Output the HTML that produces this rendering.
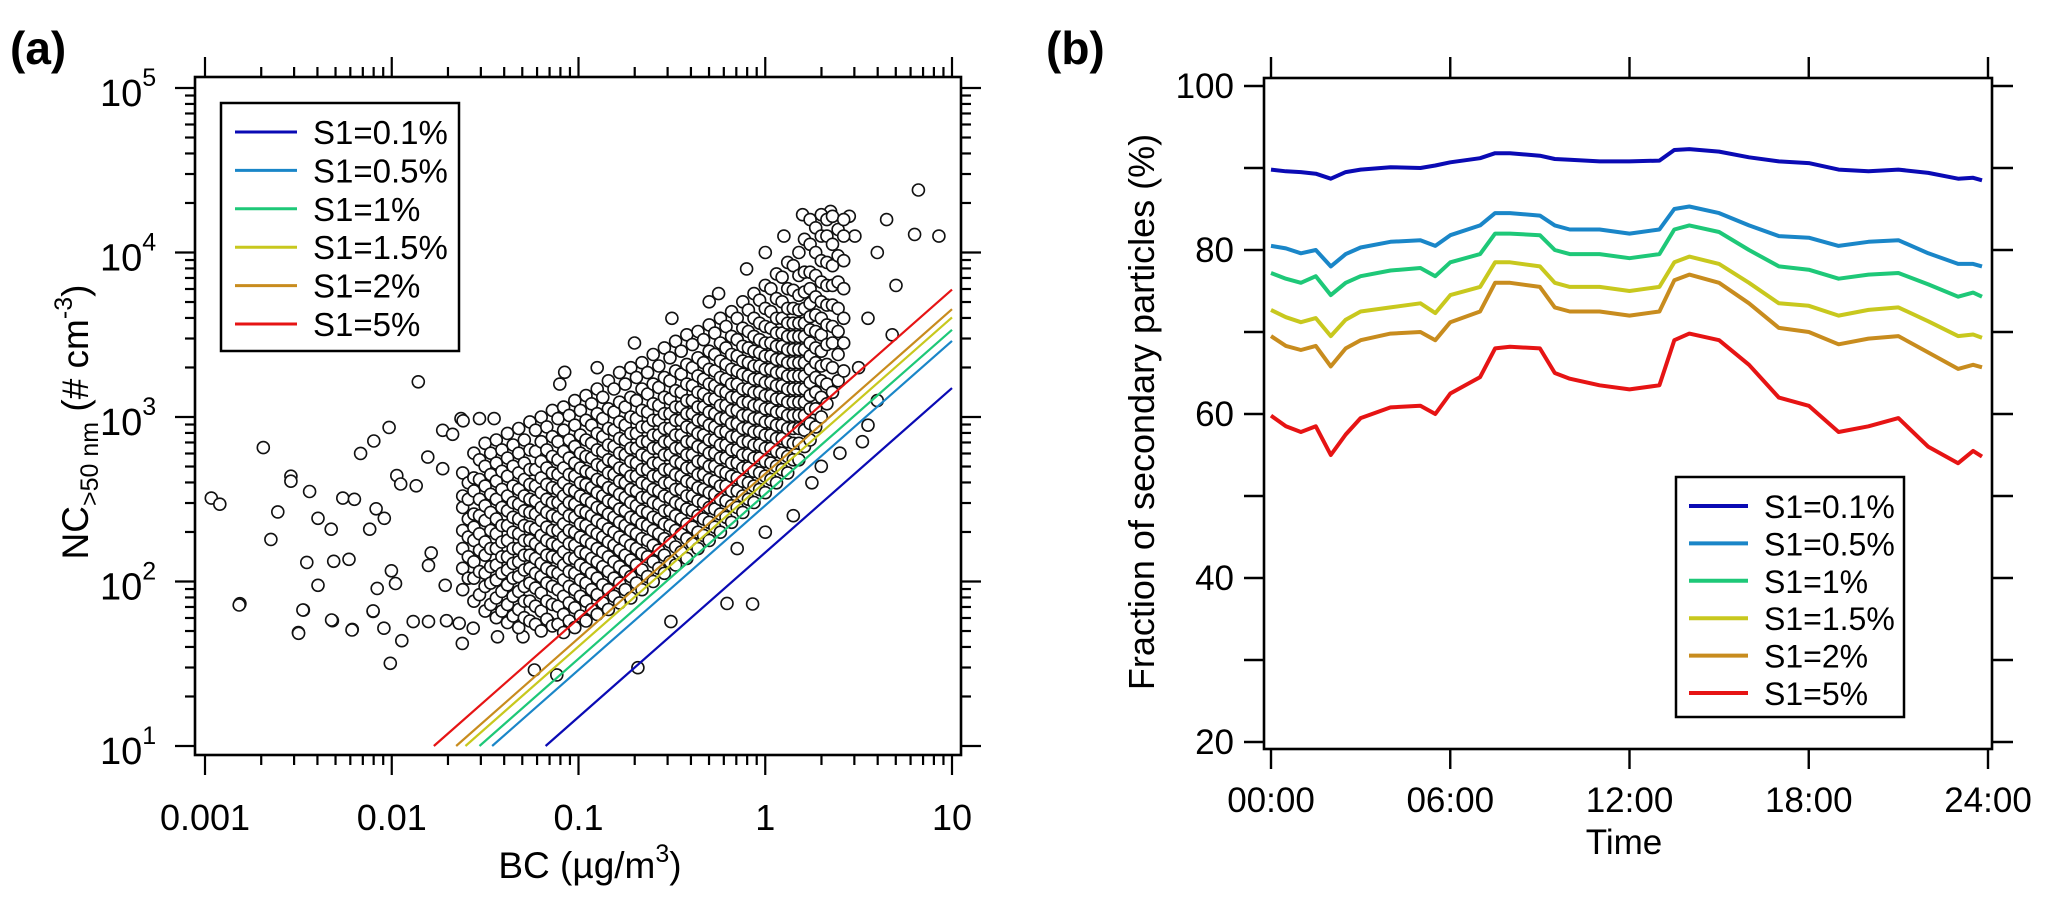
<!DOCTYPE html>
<html><head><meta charset="utf-8"><style>
html,body{margin:0;padding:0;background:#fff;}
svg{display:block;font-family:"Liberation Sans",Arial,sans-serif;}
</style></head><body>
<svg id="fig" width="2067" height="906" viewBox="0 0 2067 906" xmlns="http://www.w3.org/2000/svg">
<rect width="2067" height="906" fill="#fff"/>
<text x="10" y="64" font-size="46" font-weight="bold">(a)</text>
<text x="1046" y="64" font-size="46" font-weight="bold">(b)</text>
<g id="pa"></g>
<g id="pb"></g>
</svg>
<script>
// ---------- Panel (a) data ----------
const seriesNames = ["S1=0.1%","S1=0.5%","S1=1%","S1=1.5%","S1=2%","S1=5%"];
const seriesColors = ["#0a0ab4","#1a86c8","#1ec878","#c8c81e","#c88c1e","#e61414"];
const fitK = [150, 290, 339, 403, 452, 595];
const xTicksA = [0.001, 0.01, 0.1, 1, 10];
const xTickLabelsA = ["0.001","0.01","0.1","1","10"];
const yExpA = [1,2,3,4,5];
const outLogBC = [-2.966,-2.921,-2.688,-2.54,-2.54,-2.44,-2.61,-2.647,-2.395,-2.324,-2.262,-2.2,-2.455,-2.311,-2.229,-2.395,-2.813,-2.473,-2.318,-2.211,-2.5,-2.1,-2.078,-2.002,-1.98,-2.167,-2.096,-2.014,-1.858,-2.118,-2.084,-2.04,-1.973,-1.952,-1.869,-1.803,-1.789,-1.714,-1.727,-1.674,-1.629,-1.618,-1.53,-1.452,-1.727,-1.807,-1.074,
-2.817,-2.476,-2.499,-2.322,-2.213,-2.1,-2.042,-2.008,-1.946,-1.885,-1.803,-1.707,-1.639,-1.622,-1.564,-1.441,-1.434,-1.236,-1.116,-0.682,-0.505,-0.205,-0.068,-1.297,-1.161,
0.5,0.55,0.6,0.68,0.7,0.82,0.8,0.93,0.6,0.52,0.4,0.3,0.25,0.15,0.0,-0.15,0.55,-0.5,-0.7,-0.3,-0.1,0.1,-0.9,-1.1,0.2,0.35,0.45,0.48,0.65,-0.25,0.0];
const outLogNC = [2.507,2.47,2.814,2.64,2.61,2.547,2.423,2.256,2.384,2.318,2.507,2.5,2.116,2.123,2.135,1.977,1.865,1.826,1.762,1.709,1.69,1.818,1.958,2.065,1.988,2.779,2.854,2.937,3.214,2.318,2.442,2.384,2.644,2.593,2.582,2.098,2.174,1.977,2.919,2.895,2.99,2.977,2.99,2.99,2.686,2.756,3.272,
1.857,1.827,1.685,1.766,1.705,1.821,1.716,1.503,1.64,1.756,1.756,1.762,1.746,1.624,1.716,1.796,1.664,1.462,1.432,1.476,1.756,1.867,1.863,1.664,1.756,
3.3,3.6,4.0,3.5,3.8,4.38,4.11,4.1,3.1,2.85,2.78,2.7,2.6,2.4,2.3,2.2,2.95,3.6,3.45,3.7,3.9,4.1,3.3,3.2,4.23,4.25,4.22,4.1,4.2,3.75,4.0];
const coreLogBC = [-1.62,-1.56,-1.50,-1.44,-1.38,-1.32,-1.26,-1.20,-1.14,-1.08,-1.02,-0.96,-0.90,-0.84,-0.78,-0.72,-0.66,-0.60,-0.54,-0.48,-0.42,-0.36,-0.30,-0.24,-0.18,-0.12,-0.06,0.00,0.06,0.12,0.18,0.24,0.30,0.36,0.42];
const coreLogNC = [
[1.95,2.08,2.2,2.31,2.45,2.52,2.66],
[1.88,2.02,2.12,2.25,2.33,2.41,2.55,2.63,2.78],
[1.82,1.97,2.05,2.16,2.24,2.37,2.46,2.58,2.7,2.84],
[1.78,1.9,2.01,2.1,2.2,2.29,2.38,2.5,2.61,2.72,2.86],
[1.75,1.86,1.98,2.07,2.15,2.25,2.34,2.43,2.52,2.64,2.75,2.9],
[1.72,1.83,1.94,2.03,2.12,2.2,2.29,2.38,2.47,2.56,2.66,2.78,2.93],
[1.76,1.88,1.99,2.08,2.16,2.25,2.33,2.42,2.5,2.59,2.68,2.8,2.97],
[1.7,1.82,1.93,2.03,2.11,2.2,2.28,2.37,2.45,2.54,2.63,2.73,2.85,3.0],
[1.73,1.86,1.97,2.06,2.15,2.23,2.31,2.4,2.48,2.57,2.66,2.76,2.88,3.04],
[1.69,1.8,1.91,2.01,2.1,2.18,2.27,2.35,2.44,2.52,2.6,2.69,2.79,2.92,3.06],
[1.72,1.84,1.95,2.05,2.14,2.22,2.3,2.39,2.47,2.55,2.64,2.72,2.82,2.95,3.1],
[1.76,1.88,1.99,2.08,2.17,2.25,2.34,2.42,2.5,2.59,2.67,2.76,2.86,2.98,3.13],
[1.8,1.92,2.02,2.12,2.2,2.29,2.37,2.45,2.54,2.62,2.71,2.8,2.9,3.02,3.17],
[1.83,1.95,2.06,2.15,2.24,2.32,2.41,2.49,2.57,2.66,2.74,2.83,2.93,3.05,3.22],
[1.87,1.99,2.09,2.19,2.27,2.36,2.44,2.53,2.61,2.69,2.78,2.87,2.97,3.09,3.27],
[1.9,2.03,2.13,2.22,2.31,2.39,2.48,2.56,2.64,2.73,2.81,2.9,3.0,3.12,3.3],
[1.95,2.07,2.17,2.26,2.35,2.43,2.51,2.6,2.68,2.77,2.85,2.94,3.04,3.17,3.33],
[2.0,2.12,2.22,2.31,2.39,2.48,2.56,2.64,2.72,2.81,2.89,2.98,3.08,3.2,3.38],
[2.05,2.16,2.26,2.35,2.43,2.52,2.6,2.68,2.77,2.85,2.93,3.02,3.12,3.24,3.42],
[2.1,2.21,2.31,2.4,2.48,2.56,2.65,2.73,2.81,2.89,2.98,3.06,3.16,3.28,3.46],
[2.14,2.26,2.35,2.44,2.52,2.61,2.69,2.77,2.85,2.94,3.02,3.1,3.2,3.32,3.5],
[2.2,2.3,2.4,2.49,2.57,2.65,2.73,2.82,2.9,2.98,3.06,3.15,3.25,3.36,3.52],
[2.25,2.36,2.45,2.54,2.62,2.7,2.78,2.86,2.95,3.03,3.11,3.2,3.29,3.4,3.56],
[2.3,2.41,2.5,2.58,2.67,2.75,2.83,2.91,2.99,3.07,3.16,3.24,3.34,3.45,3.6],
[2.36,2.46,2.55,2.64,2.72,2.8,2.88,2.96,3.04,3.12,3.2,3.29,3.38,3.49,3.64],
[2.42,2.52,2.61,2.69,2.77,2.85,2.93,3.01,3.09,3.17,3.26,3.34,3.43,3.54,3.7],
[2.48,2.58,2.67,2.75,2.83,2.91,2.99,3.07,3.15,3.23,3.31,3.4,3.49,3.6,3.75],
[2.54,2.64,2.73,2.81,2.89,2.97,3.05,3.13,3.21,3.29,3.37,3.45,3.55,3.66,3.8],
[2.6,2.7,2.79,2.87,2.95,3.03,3.11,3.19,3.27,3.35,3.43,3.51,3.6,3.72,3.87],
[2.66,2.76,2.85,2.93,3.01,3.09,3.17,3.25,3.33,3.41,3.49,3.57,3.66,3.78,3.94],
[2.74,2.84,2.93,3.01,3.09,3.17,3.25,3.33,3.41,3.49,3.57,3.65,3.74,3.86,4.0],
[2.86,2.96,3.05,3.13,3.21,3.29,3.37,3.45,3.53,3.61,3.69,3.78,3.88,4.05,4.2],
[3.0,3.12,3.22,3.31,3.4,3.5,3.6,3.7,3.82,3.95,4.1,4.23],
[3.15,3.3,3.45,3.55,3.68,3.8,3.92,4.05,4.22],
[3.28,3.45,3.6,3.78,3.95,4.1,4.2]];
// second interleaved set of dense-core columns
const core2LogBC = [-1.59,-1.53,-1.47,-1.41,-1.35,-1.29,-1.23,-1.17,-1.11,-1.05,-0.99,-0.93,-0.87,-0.81,-0.75,-0.69,-0.63,-0.57,-0.51,-0.45,-0.39,-0.33,-0.27,-0.21,-0.15,-0.09,-0.03,0.03,0.09,0.15,0.21,0.27,0.33,0.39];
const core2LogNC = [
[2.02,2.15,2.27,2.38,2.5,2.6],
[1.92,2.06,2.19,2.29,2.4,2.5,2.62,2.74],
[1.86,1.99,2.09,2.2,2.31,2.42,2.53,2.65,2.78],
[1.82,1.94,2.05,2.15,2.24,2.34,2.45,2.56,2.67,2.8],
[1.79,1.91,2.02,2.11,2.2,2.3,2.39,2.48,2.58,2.7,2.83],
[1.78,1.88,1.97,2.07,2.16,2.25,2.34,2.43,2.52,2.62,2.72,2.86],
[1.74,1.85,1.96,2.05,2.14,2.23,2.32,2.41,2.49,2.58,2.68,2.79,2.92],
[1.77,1.88,1.99,2.08,2.16,2.25,2.33,2.42,2.5,2.59,2.69,2.8,2.94],
[1.74,1.85,1.95,2.05,2.14,2.22,2.31,2.39,2.48,2.56,2.65,2.74,2.85,2.99],
[1.76,1.87,1.97,2.06,2.14,2.23,2.31,2.4,2.48,2.56,2.65,2.75,2.86,3.01],
[1.79,1.91,2.01,2.1,2.18,2.27,2.35,2.43,2.52,2.6,2.69,2.78,2.89,3.04],
[1.83,1.95,2.05,2.14,2.23,2.31,2.4,2.48,2.57,2.66,2.75,2.84,2.95,3.08],
[1.87,1.98,2.09,2.18,2.27,2.35,2.44,2.52,2.61,2.7,2.79,2.88,2.99,3.12],
[1.91,2.02,2.12,2.22,2.3,2.39,2.48,2.56,2.65,2.73,2.82,2.92,3.03,3.17],
[1.95,2.06,2.16,2.25,2.34,2.43,2.51,2.6,2.68,2.77,2.86,2.95,3.06,3.2],
[1.99,2.1,2.2,2.29,2.38,2.46,2.55,2.64,2.72,2.81,2.9,2.99,3.1,3.24],
[2.03,2.15,2.25,2.34,2.42,2.51,2.59,2.68,2.76,2.85,2.94,3.03,3.14,3.27],
[2.08,2.19,2.29,2.38,2.47,2.55,2.64,2.72,2.81,2.89,2.98,3.07,3.18,3.31],
[2.12,2.24,2.34,2.43,2.51,2.6,2.68,2.77,2.85,2.93,3.02,3.11,3.22,3.36],
[2.18,2.29,2.38,2.47,2.56,2.64,2.72,2.81,2.89,2.98,3.06,3.15,3.26,3.4],
[2.23,2.33,2.43,2.52,2.6,2.69,2.77,2.85,2.93,3.02,3.1,3.19,3.3,3.44],
[2.28,2.38,2.48,2.56,2.65,2.73,2.81,2.89,2.98,3.06,3.14,3.23,3.33,3.47],
[2.33,2.44,2.53,2.61,2.7,2.78,2.86,2.94,3.02,3.11,3.19,3.28,3.38,3.51],
[2.39,2.49,2.58,2.66,2.75,2.83,2.91,2.99,3.07,3.15,3.23,3.32,3.42,3.55],
[2.45,2.55,2.63,2.72,2.8,2.88,2.96,3.04,3.12,3.2,3.28,3.37,3.47,3.6],
[2.5,2.6,2.69,2.77,2.85,2.93,3.01,3.09,3.17,3.25,3.33,3.42,3.52,3.65],
[2.56,2.66,2.75,2.83,2.91,2.99,3.07,3.15,3.23,3.31,3.39,3.47,3.57,3.71],
[2.62,2.72,2.81,2.89,2.97,3.05,3.13,3.21,3.29,3.37,3.45,3.54,3.64,3.78],
[2.68,2.78,2.87,2.95,3.03,3.11,3.19,3.27,3.35,3.43,3.51,3.6,3.7,3.85],
[2.74,2.84,2.93,3.01,3.09,3.17,3.25,3.33,3.41,3.49,3.57,3.66,3.77,3.92],
[2.82,2.92,3.01,3.09,3.17,3.25,3.33,3.41,3.49,3.57,3.66,3.76,3.88,4.08],
[2.94,3.05,3.15,3.24,3.33,3.42,3.52,3.62,3.73,3.86,4.0,4.15],
[3.08,3.2,3.32,3.44,3.56,3.68,3.8,3.94,4.1,4.2],
[3.22,3.38,3.52,3.66,3.82,3.98,4.14]];

// ---------- Panel (b) data ----------
const hours = [0,0.5,1,1.5,2,2.5,3,4,5,5.5,6,7,7.5,8,9,9.5,10,11,12,13,13.5,14,15,16,17,18,19,20,21,22,23,23.5,23.8];
const frac01 = [89.8,89.6,89.5,89.3,88.7,89.5,89.8,90.1,90.0,90.3,90.7,91.2,91.8,91.8,91.5,91.1,91.0,90.8,90.8,90.9,92.2,92.3,92.0,91.3,90.8,90.6,89.8,89.6,89.8,89.4,88.7,88.8,88.5];
const frac05 = [80.5,80.2,79.6,80.0,78.0,79.5,80.3,81.0,81.2,80.5,81.8,83.0,84.5,84.5,84.2,83.0,82.5,82.5,82.0,82.5,85.0,85.3,84.5,83.0,81.7,81.5,80.5,81.0,81.2,79.6,78.3,78.3,78.0];
const frac1 = [77.2,76.5,76.0,76.8,74.5,76.0,76.8,77.5,77.8,76.8,78.5,79.5,82.0,82.0,81.8,80.0,79.5,79.5,79.0,79.5,82.5,83.0,82.2,80.0,78.0,77.6,76.5,77.0,77.2,75.8,74.3,74.8,74.3];
const frac15 = [72.7,71.8,71.2,71.7,69.5,71.5,72.5,73.0,73.5,72.3,74.5,75.5,78.5,78.5,78.0,76.0,75.5,75.5,75.0,75.5,78.5,79.2,78.3,76.0,73.5,73.2,72.0,72.7,73.0,71.3,69.5,69.7,69.3];
const frac2 = [69.5,68.3,67.8,68.3,65.8,68.0,69.0,69.8,70.0,69.0,71.2,72.5,76.0,76.0,75.5,73.0,72.5,72.5,72.0,72.5,76.3,77.0,76.0,73.5,70.5,70.0,68.5,69.2,69.5,67.5,65.5,66.0,65.7];
const frac5 = [59.8,58.5,57.8,58.5,55.0,57.5,59.5,60.8,61.0,60.0,62.5,64.5,68.0,68.2,68.0,65.0,64.3,63.5,63.0,63.5,69.0,69.8,69.0,66.0,62.0,61.0,57.8,58.5,59.5,56.0,54.0,55.5,54.8];
const yTicksB = [20,40,60,80,100];
const xTicksB = [0,6,12,18,24];
const xTickLabelsB = ["00:00","06:00","12:00","18:00","24:00"];

const NS = "http://www.w3.org/2000/svg";
function mk(parent, tag, attrs, text){
  const e = document.createElementNS(NS, tag);
  for (const k in attrs) e.setAttribute(k, attrs[k]);
  if (text !== undefined) e.textContent = text;
  parent.appendChild(e);
  return e;
}

// ---------- Panel (a) drawing ----------
(function(){
  const g = document.getElementById('pa');
  const L=195, R=961, T=77, B=755;
  const X0=205, DX=186.75, Y1=746, DY=164.5;
  const xs = v => X0 + (Math.log10(v)+3)*DX;
  const xl = lv => X0 + (lv+3)*DX;
  const ys = v => Y1 - (Math.log10(v)-1)*DY;
  const yl = lv => Y1 - (lv-1)*DY;

  const pts = mk(g,'g',{fill:'#fff',stroke:'#111','stroke-width':1.6});
  
  
  function dot(lx, ly){
    const c = mk(pts,'circle',{cx:xl(lx).toFixed(1),cy:yl(ly).toFixed(1),r:6});
    
    
  }
  for (let i=0;i<outLogBC.length;i++) dot(outLogBC[i], outLogNC[i]);
  for (let j=0;j<coreLogBC.length;j++){
    const a = coreLogNC[j];
    for (let i=0;i<a.length;i++) dot(coreLogBC[j], a[i]);
    if (j < core2LogBC.length){
      const b = core2LogNC[j];
      for (let i=0;i<b.length;i++) dot(core2LogBC[j], b[i]);
    }
  }
  for (let s=0;s<fitK.length;s++){
    const k=fitK[s];
    const ln = mk(g,'line',{x1:xs(10/k),y1:ys(10),x2:xs(10),y2:ys(k*10),stroke:seriesColors[s],'stroke-width':2.2});
    
    
  }
  const fr = mk(g,'rect',{x:L,y:T,width:R-L,height:B-T,fill:'none',stroke:'#000','stroke-width':2.6});
  
  
  const tk = mk(g,'g',{stroke:'#000','stroke-width':2.2});
  
  
  for (let d=-3; d<=1; d++){
    for (let m=1;m<=9;m++){
      const v=m*Math.pow(10,d); if (v>10.001) break;
      const x=xs(v), len=(m===1)?20:10;
      mk(tk,'line',{x1:x,y1:B,x2:x,y2:B+len});
      mk(tk,'line',{x1:x,y1:T,x2:x,y2:T-len});
    }
  }
  for (let d=1; d<=5; d++){
    for (let m=1;m<=9;m++){
      const v=m*Math.pow(10,d); if (v>100001) break;
      const y=ys(v), len=(m===1)?20:10;
      mk(tk,'line',{x1:L,y1:y,x2:L-len,y2:y});
      mk(tk,'line',{x1:R,y1:y,x2:R+len,y2:y});
    }
  }
  xTicksA.forEach((v,i)=>{
    const t = mk(g,'text',{x:xs(v),y:830,'font-size':36,'text-anchor':'middle'},xTickLabelsA[i]);
    
    
  });
  yExpA.forEach(e=>{
    const t = mk(g,'text',{x:100,y:ys(Math.pow(10,e))+18,'font-size':38});
    
    
    mk(t,'tspan',{},'10');
    mk(t,'tspan',{dy:-20,'font-size':25},String(e));
  });
  const xt = mk(g,'text',{x:590,y:878,'font-size':37,'text-anchor':'middle'});
  
  
  mk(xt,'tspan',{},'BC (µg/m');
  mk(xt,'tspan',{dy:-16,'font-size':25},'3');
  mk(xt,'tspan',{dy:16},')');
  const yt = mk(g,'text',{x:0,y:0,'font-size':37,'text-anchor':'middle',transform:'translate(88,422) rotate(-90)'});
  
  
  mk(yt,'tspan',{},'NC');
  mk(yt,'tspan',{dy:10,'font-size':25},'>50 nm');
  mk(yt,'tspan',{dy:-10},' (# cm');
  mk(yt,'tspan',{dy:-16,'font-size':25},'-3');
  mk(yt,'tspan',{dy:16},')');
  const lg = mk(g,'g',{});
  
  
  mk(lg,'rect',{x:221,y:103,width:238,height:248,fill:'#fff',stroke:'#000','stroke-width':2.5});
  seriesNames.forEach((n,i)=>{
    const y=132+i*38.4;
    const e = mk(lg,'g',{});
    
    
    mk(e,'line',{x1:235,y1:y,x2:297,y2:y,stroke:seriesColors[i],'stroke-width':3});
    mk(e,'text',{x:313,y:y+12,'font-size':33},n);
  });
})();

// ---------- Panel (b) drawing ----------
(function(){
  const g = document.getElementById('pb');
  const L=1264, R=1992, T=78, B=749;
  const X0=1271, X24=1988, Y100=86, PX=8.2;
  const xs = h => X0 + h*(X24-X0)/24;
  const ys = v => Y100 + (100-v)*PX;
  const series = [frac01,frac05,frac1,frac15,frac2,frac5];
  series.forEach((arr,s)=>{
    const d = arr.map((v,i)=>(i?'L':'M')+xs(hours[i]).toFixed(1)+' '+ys(v).toFixed(1)).join(' ');
    const p = mk(g,'path',{d:d,fill:'none',stroke:seriesColors[s],'stroke-width':4,'stroke-linejoin':'round'});
    
    
  });
  const fr = mk(g,'rect',{x:L,y:T,width:R-L,height:B-T,fill:'none',stroke:'#000','stroke-width':2.6});
  
  
  const tk = mk(g,'g',{stroke:'#000','stroke-width':2.4});
  
  
  for (let v=20; v<=100; v+=10){
    const y=ys(v);
    mk(tk,'line',{x1:L,y1:y,x2:L-20,y2:y});
    mk(tk,'line',{x1:R,y1:y,x2:R+21,y2:y});
  }
  xTicksB.forEach(h=>{
    const x=xs(h);
    mk(tk,'line',{x1:x,y1:B,x2:x,y2:B+20});
    mk(tk,'line',{x1:x,y1:T,x2:x,y2:T-21});
  });
  yTicksB.forEach(v=>{
    const t = mk(g,'text',{x:1234,y:ys(v)+12,'font-size':35,'text-anchor':'end'},String(v));
    
    
  });
  xTicksB.forEach((h,i)=>{
    const t = mk(g,'text',{x:xs(h),y:812,'font-size':35,'text-anchor':'middle'},xTickLabelsB[i]);
    
    
  });
  const xt = mk(g,'text',{x:1624,y:854,'font-size':35,'text-anchor':'middle'},'Time');
  
  
  const yt = mk(g,'text',{x:0,y:0,'font-size':36,'text-anchor':'middle',transform:'translate(1154,412) rotate(-90)'},'Fraction of secondary particles (%)');
  
  
  const lg = mk(g,'g',{});
  
  
  mk(lg,'rect',{x:1676,y:477,width:228,height:240,fill:'#fff',stroke:'#000','stroke-width':2.5});
  seriesNames.forEach((n,i)=>{
    const y=506+i*37.4;
    const e = mk(lg,'g',{});
    
    
    mk(e,'line',{x1:1689,y1:y,x2:1748,y2:y,stroke:seriesColors[i],'stroke-width':4});
    mk(e,'text',{x:1764,y:y+12,'font-size':32},n);
  });
})();
</script>
</body></html>
